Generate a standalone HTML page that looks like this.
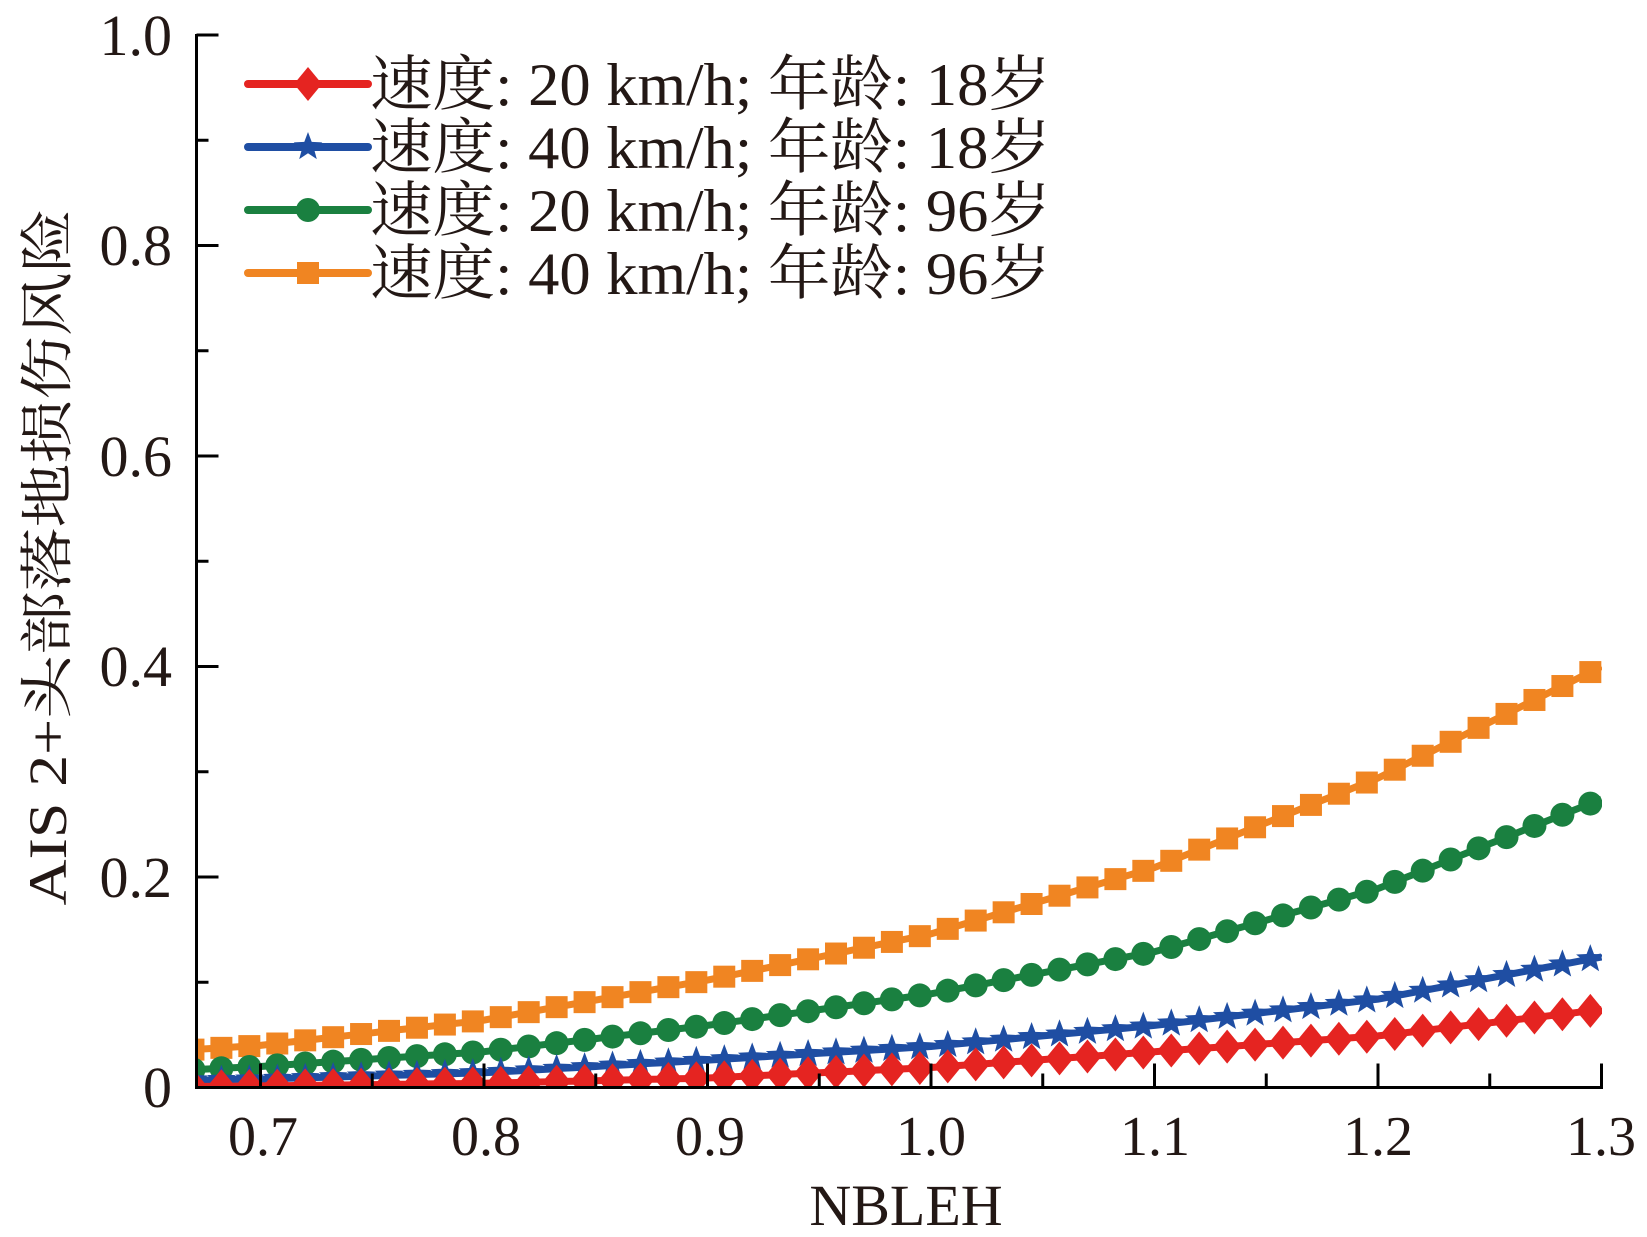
<!DOCTYPE html>
<html><head><meta charset="utf-8">
<style>
html,body{margin:0;padding:0;background:#fff;}
svg{display:block;}
text{font-family:"Liberation Serif","Noto Serif CJK SC",serif;fill:#231815;}
</style></head>
<body>
<svg id="c" width="1647" height="1237" viewBox="0 0 1647 1237" xmlns="http://www.w3.org/2000/svg">
<defs><clipPath id="pc"><rect x="196" y="20" width="1406" height="1068"/></clipPath></defs>
<g id="series" clip-path="url(#pc)"></g>
<g stroke="#000" stroke-width="3" fill="none" id="axes">
<path d="M196.5 34 V1087.5 H1603"/>
</g>
<g font-size="58" text-anchor="end">
<text x="172" y="1107">0</text>
<text x="172" y="897">0.2</text>
<text x="172" y="686">0.4</text>
<text x="172" y="476">0.6</text>
<text x="172" y="265">0.8</text>
<text x="172" y="55">1.0</text>
</g>
<g font-size="56" text-anchor="middle">
<text x="263" y="1155">0.7</text>
<text x="486" y="1155">0.8</text>
<text x="710" y="1155">0.9</text>
<text x="931" y="1155">1.0</text>
<text x="1155" y="1155">1.1</text>
<text x="1378" y="1155">1.2</text>
<text x="1601" y="1155">1.3</text>
</g>
<text x="906" y="1225" font-size="58" text-anchor="middle">NBLEH</text>
<text transform="translate(66,557) rotate(-90)" font-size="54" text-anchor="middle" textLength="697" lengthAdjust="spacingAndGlyphs">AIS 2+头部落地损伤风险</text>
<g id="legend"></g>
<g font-size="60">
<text x="370" y="105" textLength="681" lengthAdjust="spacingAndGlyphs">速度: 20 km/h; 年龄: 18岁</text>
<text x="370" y="168" textLength="681" lengthAdjust="spacingAndGlyphs">速度: 40 km/h; 年龄: 18岁</text>
<text x="370" y="231" textLength="681" lengthAdjust="spacingAndGlyphs">速度: 20 km/h; 年龄: 96岁</text>
<text x="370" y="294" textLength="681" lengthAdjust="spacingAndGlyphs">速度: 40 km/h; 年龄: 96岁</text>
</g>
</svg>
<script>
(function(){
var NS="http://www.w3.org/2000/svg";
function X(v){return 931+(v-1.0)*2235;}
function Y(v){return 1087.5-v*1052.5;}
var xs=[0.67,0.7,0.8,0.9,1.0,1.1,1.2,1.3];
var S=[
 {c:"#f08522",m:"sq",d:[0.036,0.040,0.064,0.102,0.146,0.209,0.294,0.40]},
 {c:"#1a8040",m:"ci",d:[0.017,0.020,0.034,0.059,0.089,0.129,0.189,0.274]},
 {c:"#1f4ea3",m:"st",d:[0.007,0.008,0.014,0.026,0.039,0.059,0.084,0.124]},
 {c:"#e52421",m:"di",d:[0.001,0.0015,0.004,0.009,0.019,0.034,0.049,0.074]}
];
function interp(d,x){for(var i=0;i<xs.length-1;i++){if(x<=xs[i+1]){var t=(x-xs[i])/(xs[i+1]-xs[i]);return d[i]+t*(d[i+1]-d[i]);}}return d[d.length-1];}
function el(n,a,p){var e=document.createElementNS(NS,n);for(var k in a)e.setAttribute(k,a[k]);p.appendChild(e);return e;}
function star(cx,cy,r){var p=[];for(var i=0;i<10;i++){var rr=i%2?r*0.42:r;var a=-Math.PI/2+i*Math.PI/5;p.push((cx+rr*Math.cos(a)).toFixed(1)+","+(cy+rr*Math.sin(a)).toFixed(1));}return p.join(" ");}
function marker(m,cx,cy,c,g){
 if(m=="sq")el("rect",{x:cx-11,y:cy-11,width:22,height:22,fill:c},g);
 else if(m=="ci")el("circle",{cx:cx,cy:cy,r:12,fill:c},g);
 else if(m=="st")el("polygon",{points:star(cx,cy,15),fill:c},g);
 else el("polygon",{points:cx+","+(cy-17)+" "+(cx+14)+","+cy+" "+cx+","+(cy+17)+" "+(cx-14)+","+cy,fill:c},g);
}
var g=document.getElementById("series");
S.forEach(function(s){
 var pts=[];for(var x=0.67;x<=1.3001;x+=0.005){pts.push(X(x).toFixed(1)+","+Y(interp(s.d,x)).toFixed(1));}
 el("polyline",{points:pts.join(" "),fill:"none",stroke:s.c,"stroke-width":7},g);
 for(var x=0.67;x<=1.31;x+=0.0125){marker(s.m,X(x),Y(interp(s.d,x)),s.c,g);}
});
var lg=document.getElementById("legend");
var ly=[84,147,210,273];
var order=[3,2,1,0];
for(var i=0;i<4;i++){var s=S[order[i]];el("line",{x1:248,y1:ly[i],x2:368,y2:ly[i],stroke:s.c,"stroke-width":8,"stroke-linecap":"round"},lg);marker(s.m,308,ly[i],s.c,lg);}
var ax=document.getElementById("axes");
function tk(d){el("path",{d:d},ax);}
for(var v=0;v<=1.0001;v+=0.1){var y=Y(v);var major=Math.round(v*10)%2==0;tk("M196.5 "+y+" h"+(major?22:12));}
for(var x=0.7;x<=1.3001;x+=0.05){var xx=X(x);var major=Math.round(x*100)%10==0;tk("M"+xx+" 1087.5 v"+(major?-24:-14));}
})();
</script>
</body></html>
